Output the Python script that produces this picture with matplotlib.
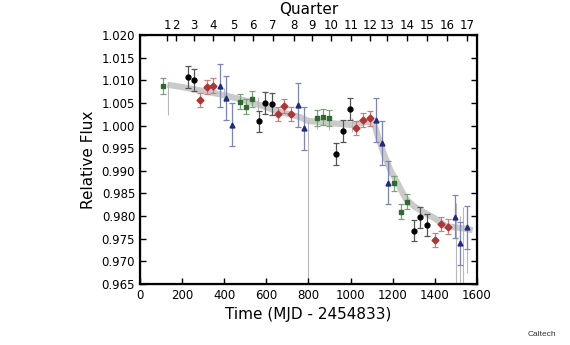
import matplotlib
matplotlib.use('Agg')
import matplotlib.pyplot as plt
import numpy as np

# Smoothed long-cadence light curve (gray trend)
trend_t = [130, 200, 268, 350, 426, 500, 584, 650, 700, 757, 800, 850, 914,
           1010, 1073, 1100, 1115, 1130, 1160, 1190, 1215, 1262, 1300, 1341,
           1400, 1452, 1500, 1546, 1580]
trend_f = [1.0090, 1.0085, 1.0079, 1.0072, 1.0064, 1.0055, 1.0043, 1.0032,
           1.0026, 1.0019, 1.0010, 1.0008, 1.0005, 1.0001, 1.0008, 1.0006,
           1.0000, 0.9975, 0.9935, 0.9900, 0.9880, 0.9838, 0.9822, 0.9810,
           0.9795, 0.9778, 0.9775, 0.9772, 0.9769]

# Individual gray error bars on the trend
gray_t = [132, 400, 560, 800, 841, 899, 1005, 1180, 1500, 1518, 1535, 1552]
gray_f = [1.0060, 1.0068, 1.0048, 0.9830, 1.0008, 1.0005, 1.0001, 0.9905, 0.9740, 0.9720, 0.9730, 0.9745]
gray_e = [0.0037, 0.0015, 0.0015, 0.0180, 0.0015, 0.0015, 0.0015, 0.0015, 0.0090, 0.0080, 0.0090, 0.0070]

# Binned photometry, one group per colour
black_t = [226, 256, 563, 595, 625, 933, 964, 996, 1300, 1330, 1365]
black_f = [1.0107, 1.0101, 1.0009, 1.0050, 1.0048, 0.9937, 0.9988, 1.0037, 0.9768, 0.9797, 0.9780]
black_e = 0.0024

red_t = [287, 319, 347, 656, 686, 716, 1027, 1057, 1092, 1400, 1431, 1464]
red_f = [1.0056, 1.0085, 1.0088, 1.0025, 1.0043, 1.0026, 0.9994, 1.0012, 1.0016, 0.9747, 0.9783, 0.9777]
red_e = 0.0016

green_t = [110, 473, 502, 533, 841, 871, 899, 1207, 1240, 1269]
green_f = [1.0087, 1.0053, 1.0042, 1.0059, 1.0017, 1.0019, 1.0017, 0.9872, 0.9810, 0.9832]
green_e = 0.0017

blue_t = [379, 409, 437, 750, 780, 1120, 1149, 1176, 1494, 1518, 1551]
blue_f = [1.0088, 1.0061, 1.0002, 1.0045, 0.9994, 1.0012, 0.9961, 0.9874, 0.9799, 0.9740, 0.9775]
blue_e = 0.0048

quarter_t = [128, 170, 256, 346, 445, 535, 630, 729, 819, 909, 1004, 1093,
             1174, 1269, 1363, 1458, 1553]
quarter_labels = [str(q) for q in range(1, 18)]

fig = plt.figure(figsize=(5.7, 3.45), dpi=100)
ax = fig.add_axes([0.2456, 0.1768, 0.5912, 0.7218])

ax.errorbar(gray_t, gray_f, yerr=gray_e, fmt='none', ecolor='#b8b8b8',
            elinewidth=0.8, zorder=1)
ax.plot(trend_t, trend_f, '-', color='#b4b4b4', lw=4.5, alpha=0.7,
        solid_capstyle='butt', zorder=2)

groups = [
    (black_t, black_f, black_e, 'o', 'k', '#555555'),
    (red_t, red_f, red_e, 'D', '#b03535', '#c88080'),
    (green_t, green_f, green_e, 's', '#2f6a2f', '#7aa37a'),
    (blue_t, blue_f, blue_e, '^', '#1f2b7d', '#7c84b8'),
]
for t, f, e, m, c, ec in groups:
    ax.errorbar(t, f, yerr=e, fmt=m, color=c, mec=c, ms=3.5, ecolor=ec,
                elinewidth=0.9, capsize=2.2, capthick=0.9, zorder=3)

ax.set_xlim(0, 1600)
ax.set_ylim(0.965, 1.020)
ax.set_xticks(np.arange(0, 1601, 200))
ax.set_yticks(np.arange(0.965, 1.0201, 0.005))
ax.yaxis.set_major_formatter(matplotlib.ticker.FormatStrFormatter('%.3f'))
ax.tick_params(direction='in', length=4, width=1, labelsize=8.5, right=True,
               top=False)
for s in ax.spines.values():
    s.set_linewidth(1.6)
ax.set_xlabel('Time (MJD - 2454833)', fontsize=11)
ax.set_ylabel('Relative Flux', fontsize=11)

top = ax.twiny()
top.set_xlim(ax.get_xlim())
top.set_xticks(quarter_t)
top.set_xticklabels(quarter_labels)
top.tick_params(direction='in', length=4, width=1, labelsize=8.5, pad=2)
top.set_xlabel('Quarter', fontsize=11, labelpad=4)

fig.text(0.975, 0.025, 'Caltech', fontsize=6, color='#333333', ha='right',
         family='Liberation Sans')

fig.savefig('out.png', dpi=100)
